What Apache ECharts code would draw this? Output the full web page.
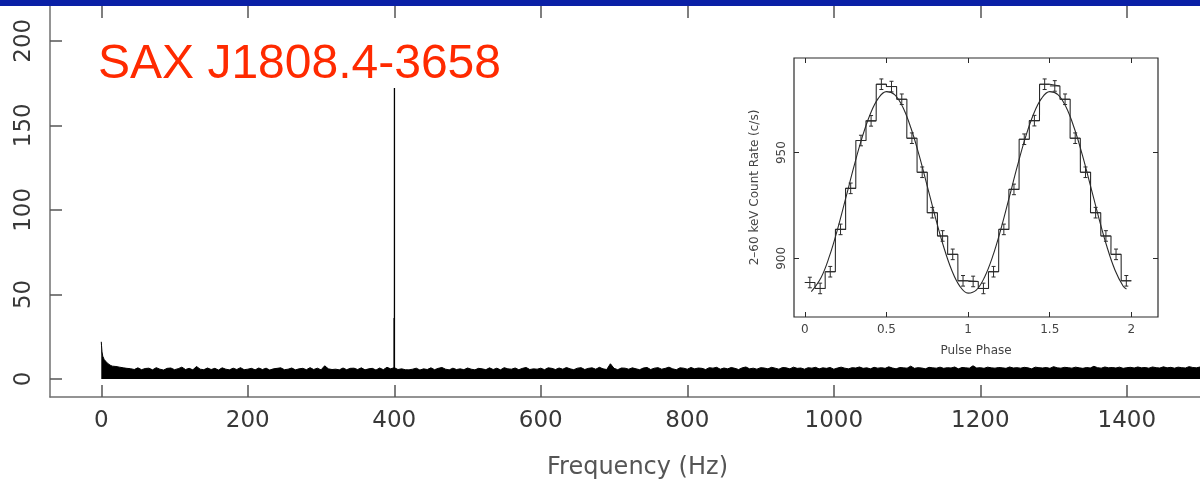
<!DOCTYPE html>
<html>
<head>
<meta charset="utf-8">
<script src="https://cdn.jsdelivr.net/npm/echarts@6.0.0/dist/echarts.min.js"></script>
<style>
  html, body { margin: 0; padding: 0; background: #fff; }
  #chart { width: 1200px; height: 482px; }
</style>
</head>
<body>
<div id="chart"></div>
<script>
// ---------- Main power spectrum ----------
const titleText = 'SAX J1808.4-3658';
const freqTicks = [0, 200, 400, 600, 800, 1000, 1200, 1400];
const powerTicks = [0, 50, 100, 150, 200];

// low-frequency (red noise) part
const lowFreqHz = [0, 0.3, 1, 2, 3, 4, 5, 6, 8, 10, 12, 15];
const lowFreqPower = [22, 20, 16, 13.5, 12.5, 11.5, 11, 10.5, 9.5, 8.7, 8.2, 7.6];

// white-noise envelope, bins every 5 Hz starting at 20 Hz
const noiseStartHz = 20;
const noiseStepHz = 5;
const noisePower = [
  7.4,7.0,6.6,6.3,6.1,5.6,6.6,5.5,6.2,6.4,5.4,6.7,5.8,5.3,6.3,6.5,5.5,6.1,7.0,5.6,
  6.3,5.4,7.4,5.8,5.5,6.5,5.6,6.3,5.3,6.6,5.8,5.4,6.4,5.6,6.7,5.5,5.8,6.3,5.4,6.5,
  5.6,6.4,5.3,6.0,6.3,6.6,5.5,5.8,6.5,5.4,6.0,6.3,5.5,6.7,5.6,6.4,5.4,7.8,6.0,5.6,
  5.8,5.4,6.5,5.5,6.3,6.4,5.6,6.6,5.4,6.0,6.3,5.3,6.5,5.5,6.9,6.0,6.7,5.6,6.0,5.5,
  5.4,5.8,6.4,5.3,6.0,5.6,6.6,5.5,6.3,6.8,5.8,5.4,6.4,5.6,6.0,5.5,6.5,5.8,5.4,6.3,
  6.0,5.5,6.6,5.6,6.4,5.4,6.7,6.0,5.8,6.5,5.5,6.3,6.8,5.6,6.0,5.8,6.4,5.5,6.6,6.3,
  5.6,6.5,5.8,6.8,6.0,5.5,6.4,6.7,5.6,6.3,6.6,5.8,6.9,6.0,5.6,9.0,6.3,5.5,6.5,6.4,
  5.8,6.6,6.0,5.5,6.5,6.8,5.6,6.4,6.7,5.8,6.3,7.0,6.0,5.5,6.6,6.4,5.8,6.8,6.0,6.5,
  6.3,5.6,6.7,6.4,6.9,5.8,6.5,6.0,6.8,6.3,5.6,6.6,7.1,6.0,6.4,5.8,6.7,6.5,6.0,6.9,
  6.4,5.8,6.8,6.6,6.0,7.0,6.3,6.5,5.8,6.7,6.4,6.9,6.0,6.6,6.3,6.8,5.8,6.5,7.0,6.4,
  6.0,6.7,6.5,7.1,6.3,6.6,6.0,6.9,6.4,6.7,6.3,7.2,6.5,6.0,6.8,6.6,6.4,7.6,6.3,6.7,
  6.5,6.0,6.9,6.6,6.4,7.0,6.3,6.7,6.5,7.1,6.0,6.8,6.6,6.4,7.8,6.5,6.7,6.3,7.0,6.6,
  6.4,6.8,6.6,6.3,7.1,6.5,6.7,6.4,6.9,6.6,6.0,7.0,6.7,6.5,6.8,6.3,7.3,6.6,6.4,6.9,
  6.7,6.4,7.0,6.6,6.3,6.8,6.5,7.5,6.7,6.4,7.1,6.6,6.8,6.5,7.0,6.3,6.7,6.9,6.5,7.1,
  6.6,6.8,6.4,7.1,6.7,6.5,7.2,6.6,6.9,6.4,7.0,6.7,6.5,7.3,6.8,6.6,7.1,6.7,6.9,6.5,
  6.8,6.6,7.0,6.7
];

// pulsar signal at 401 Hz
const pulsarHz = [399.8, 400.2];
const pulsarPower = [36, 172];

// ---------- Inset pulse profile ----------
const phaseTicks = [0, 0.5, 1, 1.5, 2];
const rateTicks = [900, 950];
const phaseBinWidth = 0.0625;
const phaseCenters = [
  0.031,0.094,0.156,0.219,0.281,0.344,0.406,0.469,0.531,0.594,0.656,0.719,0.781,0.844,0.906,0.969,
  1.031,1.094,1.156,1.219,1.281,1.344,1.406,1.469,1.531,1.594,1.656,1.719,1.781,1.844,1.906,1.969
];
const countRate = [
  888.6,885.8,893.7,913.7,933.1,955.7,965.0,982.3,981.2,975.2,956.8,940.7,921.6,910.6,901.9,889.4,
  889.1,885.8,893.7,913.7,932.6,956.3,965.1,982.3,981.5,975.2,956.8,940.7,921.6,910.6,901.9,889.4
];
const countErr = [
  2.5,2.5,2.5,2.5,2.5,2.5,2.5,2.5,2.5,2.5,2.5,2.5,2.5,2.5,2.5,2.5,
  2.5,2.5,2.5,2.5,2.5,2.5,2.5,2.5,2.5,2.5,2.5,2.5,2.5,2.5,2.5,2.5
];
const phaseErr = 0.03;

const fitPhase = [0.04,0.10,0.15,0.20,0.25,0.30,0.35,0.40,0.45,0.50,0.55,0.60,0.65,0.70,0.75,0.80,0.85,0.90,0.95,1.00,
                  1.05,1.10,1.15,1.20,1.25,1.30,1.35,1.40,1.45,1.50,1.55,1.60,1.65,1.70,1.75,1.80,1.85,1.90,1.95,1.97];
const fitRate = [884.3,891.0,900.8,913.6,928.2,943.1,956.8,968.0,975.6,978.8,977.4,971.5,961.6,948.8,934.2,919.3,905.6,894.4,886.8,883.6,
                 885.0,891.0,900.8,913.6,928.2,943.1,956.8,968.0,975.6,978.8,977.4,971.5,961.6,948.8,934.2,919.3,905.6,894.4,886.8,885.5];

// ---------- build series data ----------
const spectrumData = [];
lowFreqHz.forEach((f, i) => spectrumData.push([f, lowFreqPower[i]]));
noisePower.forEach((p, i) => spectrumData.push([noiseStartHz + i * noiseStepHz, p]));

const stemData = pulsarHz.map((f, i) => [f, pulsarPower[i]]);

const histData = [];
phaseCenters.forEach((c, i) => {
  histData.push([c - phaseBinWidth / 2, countRate[i]]);
  histData.push([c + phaseBinWidth / 2, countRate[i]]);
});
const errData = phaseCenters.map((c, i) => [c, countRate[i], countErr[i]]);
const fitData = fitPhase.map((p, i) => [p, fitRate[i]]);

const FONT = 'DejaVu Sans';
const inkInset = '#2a2a2a';
const plain = (v) => String(v);

const chart = echarts.init(document.getElementById('chart'), null, { renderer: 'canvas' });

const mainAxisLine = { show: true, onZero: false, lineStyle: { color: '#707070', width: 1.5 } };
const mainTick = (len) => ({ show: true, inside: true, length: len, lineStyle: { color: '#555', width: 1.5 } });
const insetTick = (vals) => ({ show: true, inside: true, length: 5, customValues: vals, lineStyle: { color: inkInset, width: 1 } });
const noLine = { show: false, onZero: false };

const option = {
  animation: false,
  backgroundColor: '#ffffff',
  grid: [
    { left: 50, top: 5, width: 1175, bottom: 85, containLabel: false, outerBoundsMode: 'none' },
    { left: 794, top: 58, width: 364, height: 259, containLabel: false, outerBoundsMode: 'none',
      show: true, borderColor: inkInset, borderWidth: 1.2, backgroundColor: 'rgba(255,255,255,0)' }
  ],
  xAxis: [
    {
      type: 'value', gridIndex: 0, position: 'bottom', min: -70, max: 1534,
      axisLine: mainAxisLine,
      axisTick: Object.assign(mainTick(12), { customValues: freqTicks }),
      axisLabel: { customValues: freqTicks, formatter: plain, fontFamily: FONT, fontSize: 23, color: '#383838', margin: 13 },
      splitLine: { show: false },
      name: 'Frequency (Hz)', nameLocation: 'middle', nameGap: 59,
      nameTextStyle: { fontFamily: FONT, fontSize: 24, color: '#555' }
    },
    {
      type: 'value', gridIndex: 0, position: 'top', min: -70, max: 1534,
      axisLine: mainAxisLine,
      axisTick: Object.assign(mainTick(13), { customValues: freqTicks }),
      axisLabel: { show: false },
      splitLine: { show: false }
    },
    {
      type: 'value', gridIndex: 1, position: 'bottom', min: -0.066, max: 2.163,
      axisLine: noLine,
      axisTick: insetTick(phaseTicks),
      axisLabel: { customValues: phaseTicks, formatter: plain, fontFamily: FONT, fontSize: 12, color: '#444', margin: 7 },
      splitLine: { show: false },
      name: 'Pulse Phase', nameLocation: 'middle', nameGap: 28,
      nameTextStyle: { fontFamily: FONT, fontSize: 12, color: '#444' }
    },
    {
      type: 'value', gridIndex: 1, position: 'top', min: -0.066, max: 2.163,
      axisLine: noLine,
      axisTick: insetTick(phaseTicks),
      axisLabel: { show: false },
      splitLine: { show: false }
    }
  ],
  yAxis: [
    {
      type: 'value', gridIndex: 0, position: 'left', min: -10.64, max: 221.1,
      axisLine: mainAxisLine,
      axisTick: Object.assign(mainTick(12), { customValues: powerTicks }),
      axisLabel: { customValues: powerTicks, formatter: plain, rotate: 90, fontFamily: FONT, fontSize: 23, color: '#383838', margin: 14 },
      splitLine: { show: false }
    },
    {
      type: 'value', gridIndex: 1, position: 'left', min: 872.3, max: 994.7,
      axisLine: noLine,
      axisTick: insetTick(rateTicks),
      axisLabel: { customValues: rateTicks, formatter: plain, rotate: 90, fontFamily: FONT, fontSize: 12, color: '#444', margin: 6 },
      splitLine: { show: false },
      name: '2–60 keV Count Rate (c/s)', nameLocation: 'middle', nameGap: 33, nameRotate: 90,
      nameTextStyle: { fontFamily: FONT, fontSize: 12, color: '#444' }
    },
    {
      type: 'value', gridIndex: 1, position: 'right', min: 872.3, max: 994.7,
      axisLine: noLine,
      axisTick: insetTick(rateTicks),
      axisLabel: { show: false },
      splitLine: { show: false }
    }
  ],
  series: [
    {
      type: 'line', xAxisIndex: 0, yAxisIndex: 0, data: spectrumData,
      symbol: 'none', silent: true,
      lineStyle: { color: '#000', width: 1 },
      areaStyle: { color: '#000', opacity: 1, origin: 0 }
    },
    {
      type: 'custom', xAxisIndex: 0, yAxisIndex: 0, data: stemData, silent: true,
      renderItem: function (params, api) {
        const x = api.value(0), y = api.value(1);
        const top = api.coord([x, y]);
        const bot = api.coord([x, 0]);
        return { type: 'line', shape: { x1: top[0], y1: top[1], x2: bot[0], y2: bot[1] },
                 style: { stroke: '#000', lineWidth: 1.3 } };
      }
    },
    {
      type: 'line', xAxisIndex: 2, yAxisIndex: 1, data: histData,
      symbol: 'none', silent: true,
      lineStyle: { color: inkInset, width: 1.1 }
    },
    {
      type: 'line', xAxisIndex: 2, yAxisIndex: 1, data: fitData,
      symbol: 'none', smooth: 0.4, silent: true,
      lineStyle: { color: inkInset, width: 1.1 }
    },
    {
      type: 'custom', xAxisIndex: 2, yAxisIndex: 1, data: errData, silent: true,
      renderItem: function (params, api) {
        const x = api.value(0), y = api.value(1), e = api.value(2);
        const top = api.coord([x, y + e]);
        const bot = api.coord([x, y - e]);
        const lft = api.coord([x - phaseErr, y]);
        const rgt = api.coord([x + phaseErr, y]);
        const st = { stroke: inkInset, lineWidth: 1 };
        return {
          type: 'group',
          children: [
            { type: 'line', shape: { x1: top[0], y1: top[1], x2: bot[0], y2: bot[1] }, style: st },
            { type: 'line', shape: { x1: lft[0], y1: lft[1], x2: rgt[0], y2: rgt[1] }, style: st },
            { type: 'line', shape: { x1: top[0] - 2, y1: top[1], x2: top[0] + 2, y2: top[1] }, style: st },
            { type: 'line', shape: { x1: bot[0] - 2, y1: bot[1], x2: bot[0] + 2, y2: bot[1] }, style: st }
          ]
        };
      }
    }
  ],
  graphic: [
    { type: 'rect', left: 0, top: 0, z: 100, shape: { width: 1200, height: 6 }, style: { fill: '#0a20a6' } },
    { type: 'text', z: 100, style: { x: 98, y: 65, text: titleText, fill: '#ff2a00',
        font: '48px "Liberation Sans", Arial, sans-serif', verticalAlign: 'middle', align: 'left' } }
  ]
};

chart.setOption(option);
</script>
</body>
</html>
